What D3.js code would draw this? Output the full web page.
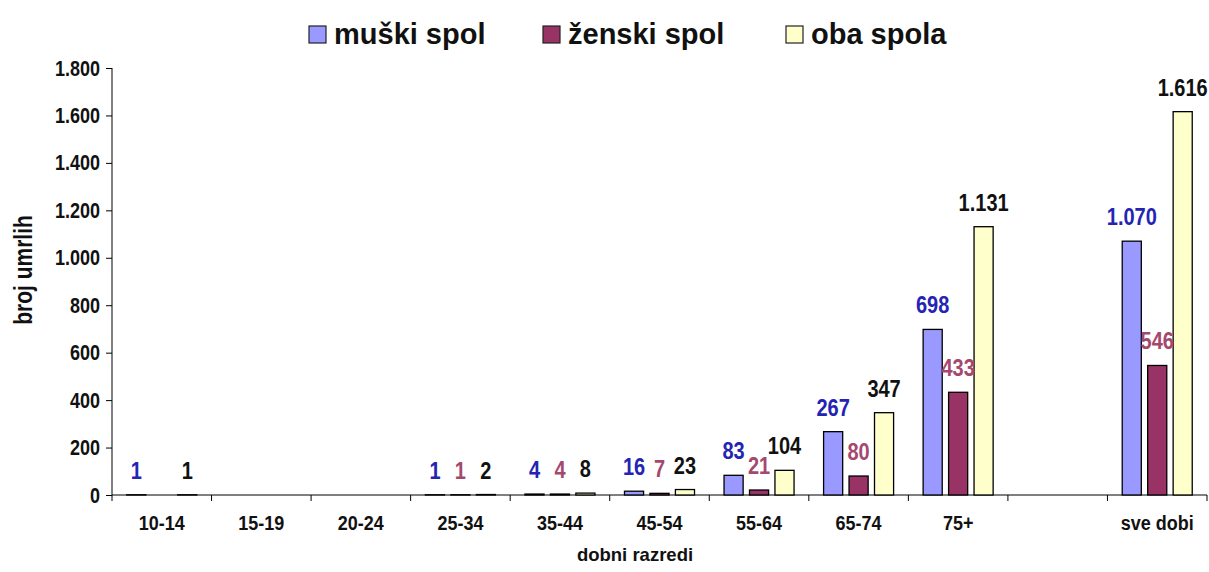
<!DOCTYPE html>
<html>
<head>
<meta charset="utf-8">
<script src="https://cdn.jsdelivr.net/npm/d3@7"></script>
<style>
  body { margin: 0; background: #fff; }
  svg text { font-family: "Liberation Sans", Arial, sans-serif; font-weight: bold; }
</style>
</head>
<body>
<div id="chart"></div>
<script>
// age groups (the empty one is the spacer column before the total)
const categories = ["10-14", "15-19", "20-24", "25-34", "35-44", "45-54", "55-64", "65-74", "75+", "", "sve dobi"];
const seriesNames = ["muški spol", "ženski spol", "oba spola"];
const maleValues = [1, 0, 0, 1, 4, 16, 83, 267, 698, null, 1070];
const femaleValues = [0, 0, 0, 1, 4, 7, 21, 80, 433, null, 546];
const bothValues = [1, 0, 0, 2, 8, 23, 104, 347, 1131, null, 1616];
const yTicks = [0, 200, 400, 600, 800, 1000, 1200, 1400, 1600, 1800];

// the original picture was stretched, text is taller than it is wide
function stretch(sel, k) {
  sel.each(function () {
    const t = d3.select(this);
    const x = +t.attr("x") || 0, y = +t.attr("y") || 0;
    const prev = t.attr("transform") || "";
    t.attr("x", null).attr("y", null)
      .attr("transform", `${prev} translate(${x},${y}) scale(1,${k})`);
  });
}

class GroupedBars {
  constructor(_config) {
    this.config = {
      parentElement: _config.parentElement,
      containerWidth: 1209,
      containerHeight: 572,
      margin: { top: 68, right: 2, bottom: 77, left: 112 }
    };
    this.initVis();
  }

  initVis() {
    let vis = this;
    const m = vis.config.margin;
    vis.width = vis.config.containerWidth - m.left - m.right;
    vis.height = vis.config.containerHeight - m.top - m.bottom;

    vis.fill = ["#9999ff", "#993366", "#ffffcc"];
    vis.labelColor = ["#2424b4", "#a5486e", "#111111"];

    // Croatian style numbers: 1.131
    vis.fmt = d3.formatLocale({ decimal: ",", thousands: ".", grouping: [3], currency: ["", ""] }).format(",d");

    vis.svg = d3.select(vis.config.parentElement).append("svg")
      .attr("width", vis.config.containerWidth)
      .attr("height", vis.config.containerHeight);

    vis.svg.append("rect")
      .attr("width", vis.config.containerWidth)
      .attr("height", vis.config.containerHeight)
      .attr("fill", "#fff");

    vis.chart = vis.svg.append("g")
      .attr("transform", `translate(${m.left},${m.top})`);

    vis.x = d3.scaleBand().domain(d3.range(categories.length)).range([0, vis.width]);
    vis.xInner = d3.scaleBand().domain(d3.range(3)).range([0, vis.x.bandwidth()])
      .paddingInner(0.25).paddingOuter(0.58);
    vis.y = d3.scaleLinear().domain([0, 1800]).range([vis.height, 0]);

    vis.updateVis();
  }

  updateVis() {
    let vis = this;
    const all = [maleValues, femaleValues, bothValues];
    vis.bars = [];
    categories.forEach((c, i) => {
      all.forEach((vals, s) => {
        if (vals[i] != null && vals[i] > 0) vis.bars.push({ i, s, value: vals[i] });
      });
    });
    vis.renderVis();
  }

  renderVis() {
    let vis = this;

    // y axis
    const yAxis = d3.axisLeft(vis.y).tickValues(yTicks).tickSize(6).tickPadding(0)
      .tickFormat(d => vis.fmt(d));
    const yg = vis.chart.append("g").call(yAxis);
    yg.select(".domain").attr("stroke", "#000").attr("d", `M0,0V${vis.height}`);
    yg.selectAll(".tick line").attr("stroke", "#000");
    yg.selectAll(".tick text").attr("font-size", 18).attr("fill", "#111")
      .attr("dy", null).attr("x", -12).attr("y", 7);
    stretch(yg.selectAll(".tick text"), 1.18);

    // x axis: labels at band centres, ticks at band edges
    const xAxis = d3.axisBottom(vis.x).tickSize(0).tickPadding(0).tickFormat(i => categories[i]);
    const xg = vis.chart.append("g").attr("transform", `translate(0,${vis.height})`).call(xAxis);
    xg.select(".domain").attr("stroke", "#000").attr("d", `M0,0H${vis.width}`);
    xg.selectAll(".tick text").attr("font-size", 18).attr("fill", "#111").attr("dy", null).attr("y", 35);
    stretch(xg.selectAll(".tick text"), 1.15);

    const edges = d3.range(categories.length).map(i => vis.x(i)).concat([vis.width]);
    xg.selectAll(".edge").data(edges).join("line")
      .attr("class", "edge")
      .attr("x1", d => d).attr("x2", d => d)
      .attr("y1", 0).attr("y2", 6)
      .attr("stroke", "#000");

    // bars
    vis.chart.selectAll(".bar").data(vis.bars).join("rect")
      .attr("class", "bar")
      .attr("x", d => vis.x(d.i) + vis.xInner(d.s))
      .attr("width", vis.xInner.bandwidth())
      .attr("y", d => vis.y(d.value))
      .attr("height", d => vis.height - vis.y(d.value))
      .attr("fill", d => vis.fill[d.s])
      .attr("stroke", "#000")
      .attr("stroke-width", 1.3);

    // value labels
    const vals = vis.chart.selectAll(".val").data(vis.bars).join("text")
      .attr("class", "val")
      .attr("x", d => vis.x(d.i) + vis.xInner(d.s) + vis.xInner.bandwidth() / 2)
      .attr("y", d => vis.y(d.value) - 16)
      .attr("text-anchor", "middle")
      .attr("font-size", 20)
      .attr("fill", d => vis.labelColor[d.s])
      .text(d => vis.fmt(d.value));
    stretch(vals, 1.15);

    // axis titles
    vis.svg.append("text")
      .attr("transform", `translate(32,${vis.config.margin.top + 202}) rotate(-90) scale(1,1.2)`)
      .attr("text-anchor", "middle")
      .attr("font-size", 21)
      .attr("fill", "#111")
      .text("broj umrlih");

    vis.svg.append("text")
      .attr("x", 635).attr("y", 561)
      .attr("text-anchor", "middle")
      .attr("font-size", 18.5)
      .attr("fill", "#111")
      .text("dobni razredi");

    // legend
    const legendX = [309, 543, 786];
    const leg = vis.svg.selectAll(".leg").data(seriesNames).join("g")
      .attr("class", "leg")
      .attr("transform", (d, i) => `translate(${legendX[i]},0)`);
    leg.append("rect")
      .attr("x", 0).attr("y", 26).attr("width", 17).attr("height", 17)
      .attr("fill", (d, i) => vis.fill[i])
      .attr("stroke", "#222").attr("stroke-width", 1.2);
    leg.append("text")
      .attr("x", 25).attr("y", 44)
      .attr("font-size", 29)
      .attr("fill", "#111")
      .text(d => d);
  }
}

new GroupedBars({ parentElement: "#chart" });
</script>
</body>
</html>
